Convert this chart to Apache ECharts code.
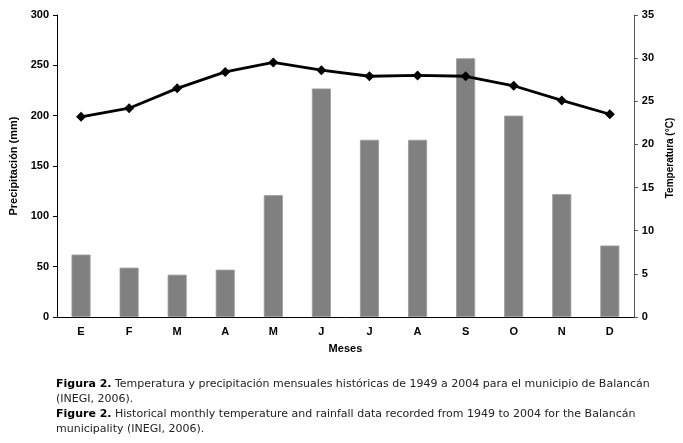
<!DOCTYPE html>
<html><head><meta charset="utf-8">
<script src="https://cdn.jsdelivr.net/npm/echarts@6/dist/echarts.min.js"></script>
<style>html,body{margin:0;padding:0;background:#fff}#c{width:683px;height:443px}</style>
</head><body><div id="c"></div>
<script>
const months = ['E','F','M','A','M','J','J','A','S','O','N','D'];
const precipitation = [62, 49, 42, 47, 121, 227, 176, 176, 257, 200, 122, 71];
const temperature = [23.2, 24.2, 26.5, 28.4, 29.5, 28.6, 27.9, 28.0, 27.9, 26.8, 25.1, 23.5];
const captionLines = [
  ['Figura 2.', ' Temperatura y precipitación mensuales históricas de 1949 a 2004 para el municipio de Balancán'],
  ['', '(INEGI, 2006).'],
  ['Figure 2.', ' Historical monthly temperature and rainfall data recorded from 1949 to 2004 for the Balancán'],
  ['', 'municipality (INEGI, 2006).']
];
const chart = echarts.init(document.getElementById('c'));
const font = 'Liberation Sans, Arial, sans-serif';
const capFont = 'DejaVu Sans, sans-serif';
const lineYs = [386, 401, 416, 431];
chart.setOption({
  animation: false,
  grid: {left: 53, right: 48, top: 15, bottom: 126},
  xAxis: {
    type: 'category', data: months,
    axisLine: {lineStyle: {color: '#000', width: 1}},
    axisTick: {show: false},
    axisLabel: {color: '#000', fontWeight: 'bold', fontSize: 11, fontFamily: font, margin: 9},
    name: 'Meses', nameLocation: 'middle', nameGap: 26,
    nameTextStyle: {color: '#000', fontWeight: 'bold', fontSize: 11, fontFamily: font}
  },
  yAxis: [{
    type: 'value', min: 0, max: 300, interval: 50,
    axisLine: {show: true, lineStyle: {color: '#000'}},
    axisTick: {show: true, length: 4, lineStyle: {color: '#000'}},
    splitLine: {show: false},
    axisLabel: {color: '#000', fontWeight: 'bold', fontSize: 11, fontFamily: font, margin: 8},
    name: 'Precipitación (mm)', nameLocation: 'middle', nameGap: 38, nameRotate: 90,
    nameTextStyle: {color: '#000', fontWeight: 'bold', fontSize: 11, fontFamily: font}
  }, {
    type: 'value', min: 0, max: 35, interval: 5, position: 'right',
    axisLine: {show: true, lineStyle: {color: '#555'}},
    axisTick: {show: true, length: 4, lineStyle: {color: '#555'}},
    splitLine: {show: false},
    axisLabel: {color: '#000', fontWeight: 'bold', fontSize: 11, fontFamily: font, margin: 8},
    name: 'Temperatura (°C)', nameLocation: 'middle', nameGap: 30, nameRotate: 90,
    nameTextStyle: {color: '#000', fontWeight: 'bold', fontSize: 10, fontFamily: font, padding: [0, 0, 0, 16]}
  }],
  series: [{
    type: 'bar', data: precipitation, yAxisIndex: 0, barWidth: 19,
    itemStyle: {color: '#808080', borderColor: '#9a9a9a', borderWidth: 0.8}
  }, {
    type: 'line', data: temperature, yAxisIndex: 1,
    lineStyle: {color: '#000', width: 2.8},
    itemStyle: {color: '#000'},
    symbol: 'diamond', symbolSize: 10
  }],
  graphic: captionLines.map((l, i) => ({
    type: 'text', left: 56, top: lineYs[i] - 7,
    style: {
      text: (l[0] ? '{b|' + l[0] + '}' : '') + '{n|' + l[1] + '}',
      rich: {
        b: {fontWeight: 'bold', fontSize: 11, fontFamily: capFont, fill: '#000'},
        n: {fontSize: 11, fontFamily: capFont, fill: '#222'}
      }
    }
  }))
});
</script></body></html>
